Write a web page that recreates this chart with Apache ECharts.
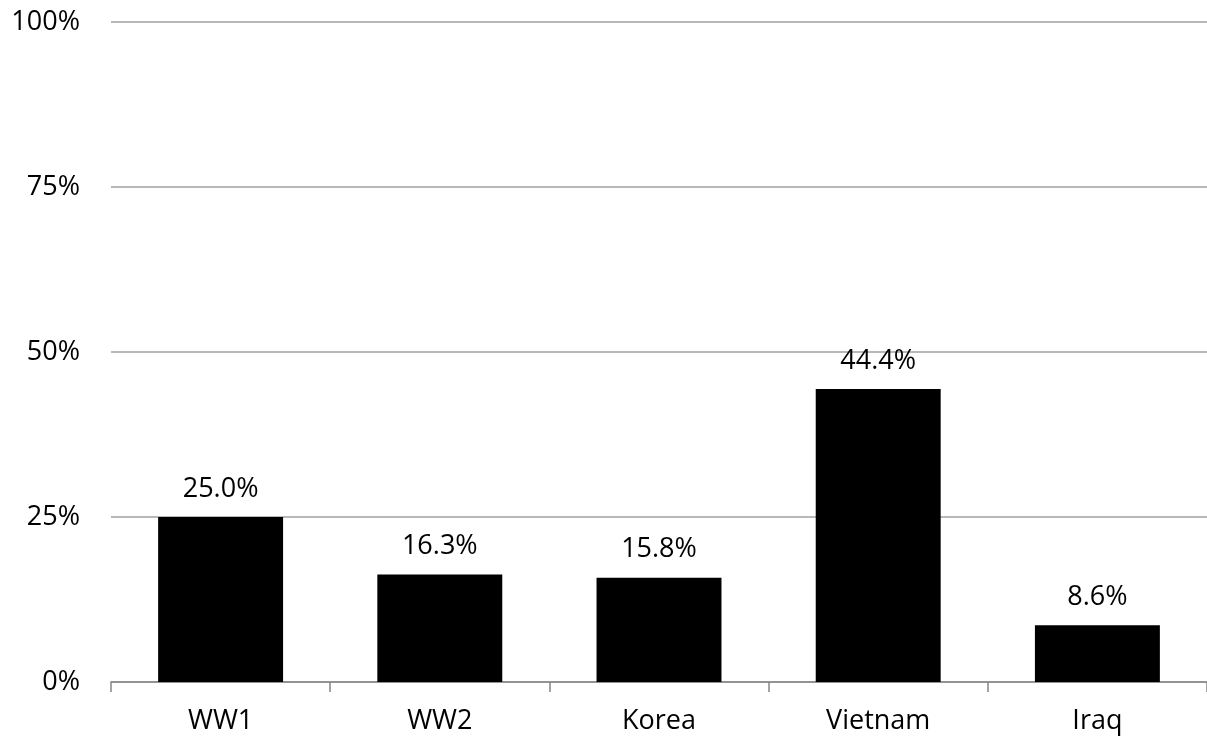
<!DOCTYPE html>
<html><head><meta charset="utf-8">
<script src="https://cdn.jsdelivr.net/npm/echarts@6/dist/echarts.min.js"></script>
<style>html,body{margin:0;padding:0;background:#fff}#c{width:1207px;height:740px}</style>
</head><body><div id="c"></div>
<script>
const categories = ["WW1", "WW2", "Korea", "Vietnam", "Iraq"];
const values = [25.0, 16.3, 15.8, 44.4, 8.6];
const yTicks = [0, 25, 50, 75, 100];

const chart = echarts.init(document.getElementById('c'));
const font = '"Open Sans", Calibri, sans-serif';
chart.setOption({
  animation: false,
  grid: { left: 111, right: 0, top: 22, bottom: 58 },
  xAxis: {
    type: 'category', data: categories,
    axisLine: { lineStyle: { color: '#868686', width: 1.5 } },
    axisTick: { show: true, length: 10, lineStyle: { color: '#868686', width: 1.5 } },
    axisLabel: { color: '#000', fontSize: 27, lineHeight: 28, fontFamily: font, margin: 25 }
  },
  yAxis: {
    type: 'value', min: 0, max: 100, interval: 25,
    axisLine: { show: false }, axisTick: { show: false },
    splitLine: { lineStyle: { color: '#a0a0a0', width: 1.5 } },
    axisLabel: { color: '#000', fontSize: 27, fontFamily: font, margin: 31,
      formatter: v => yTicks.includes(v) ? v + '%' : '' }
  },
  series: [{
    type: 'bar', data: values, barWidth: '57%',
    itemStyle: { color: '#000' },
    label: { show: true, position: 'top', distance: 14, color: '#000', fontSize: 27,
      lineHeight: 28, fontFamily: font, formatter: p => p.value.toFixed(1) + '%' }
  }]
});
</script></body></html>
